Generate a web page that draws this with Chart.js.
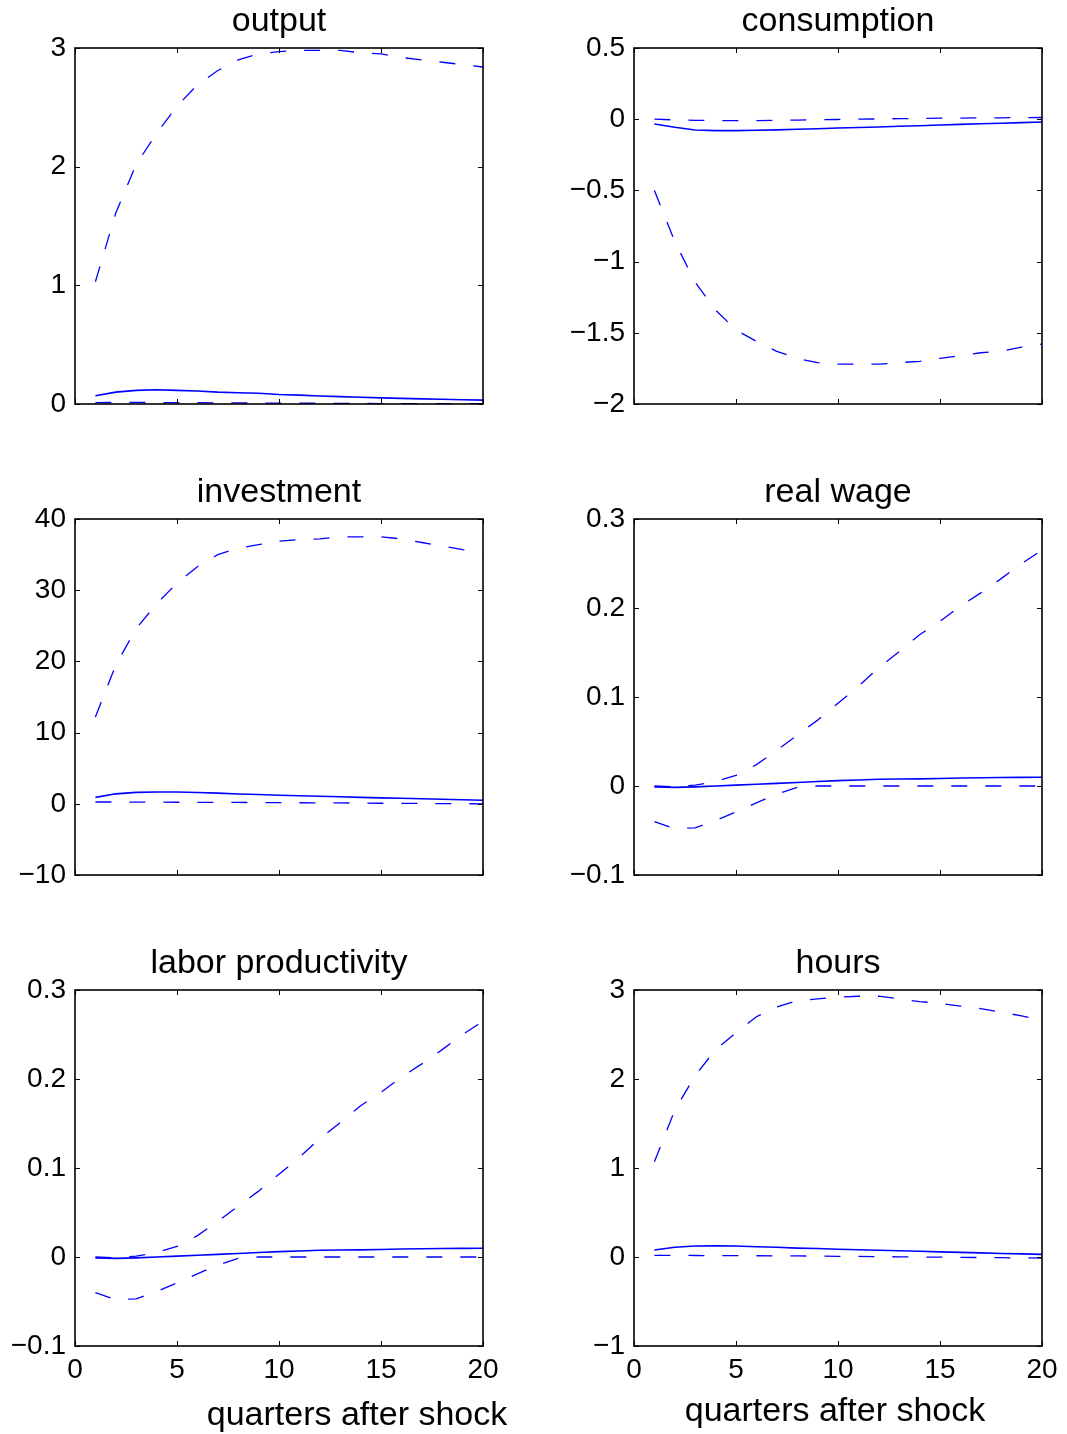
<!DOCTYPE html>
<html>
<head>
<meta charset="utf-8">
<script src="https://cdn.jsdelivr.net/npm/chart.js@4"></script>
<style>
  html, body { margin: 0; padding: 0; background: #fff; }
  body { position: relative; width: 1067px; height: 1434px; overflow: hidden; }
  canvas { position: absolute; }
</style>
</head>
<body>
<canvas id="c0"></canvas>
<canvas id="c1"></canvas>
<canvas id="c2"></canvas>
<canvas id="c3"></canvas>
<canvas id="c4"></canvas>
<canvas id="c5"></canvas>
<script>
// ---------------- data ----------------
const quarters = [1,2,3,4,5,6,7,8,9,10,11,12,13,14,15,16,17,18,19,20];
const xTicks = [0,5,10,15,20];
const xLabel = "quarters after shock";

const titles = ["output", "consumption", "investment", "real wage", "labor productivity", "hours"];

const outputTicks = [0,1,2,3];
const outputUpper  = [1.03,1.61,2.02,2.28,2.51,2.69,2.81,2.90,2.95,2.97,2.98,2.98,2.98,2.96,2.95,2.92,2.90,2.88,2.86,2.84];
const outputMedian = [0.07,0.10,0.115,0.12,0.115,0.11,0.10,0.095,0.09,0.08,0.075,0.068,0.062,0.057,0.052,0.047,0.043,0.040,0.036,0.033];
const outputLower  = [0.012,0.013,0.013,0.012,0.012,0.011,0.010,0.009,0.008,0.007,0.007,0.006,0.005,0.005,0.004,0.004,0.003,0.003,0.002,0.002];

const consumptionTicks = [-2,-1.5,-1,-0.5,0,0.5];
const consumptionUpper  = [0.0,-0.005,-0.008,-0.01,-0.01,-0.01,-0.008,-0.006,-0.004,-0.002,0.0,0.002,0.004,0.005,0.007,0.008,0.009,0.010,0.011,0.012];
const consumptionMedian = [-0.034,-0.057,-0.076,-0.080,-0.080,-0.078,-0.075,-0.071,-0.067,-0.062,-0.058,-0.055,-0.050,-0.046,-0.041,-0.036,-0.032,-0.028,-0.024,-0.020];
const consumptionLower  = [-0.50,-0.86,-1.145,-1.34,-1.48,-1.56,-1.63,-1.68,-1.71,-1.72,-1.72,-1.72,-1.71,-1.70,-1.68,-1.66,-1.64,-1.63,-1.60,-1.58];

const investmentTicks = [-10,0,10,20,30,40];
const investmentUpper  = [12.2,19.5,24.6,28.1,31.0,33.3,35.0,35.9,36.4,36.9,37.1,37.2,37.5,37.5,37.5,37.2,36.7,36.2,35.7,35.3];
const investmentMedian = [0.9,1.4,1.6,1.65,1.65,1.58,1.5,1.37,1.3,1.2,1.13,1.07,0.98,0.9,0.83,0.77,0.7,0.63,0.56,0.5];
const investmentLower  = [0.25,0.25,0.24,0.23,0.22,0.21,0.2,0.19,0.18,0.17,0.15,0.14,0.12,0.1,0.08,0.06,0.05,0.03,0.01,0.0];

const wageTicks = [-0.1,0,0.1,0.2,0.3];
const wageUpper  = [0.0,-0.001,0.001,0.005,0.012,0.024,0.040,0.057,0.074,0.093,0.112,0.133,0.151,0.170,0.185,0.202,0.217,0.233,0.250,0.265];
const wageMedian = [-0.001,-0.0015,-0.001,0.0,0.001,0.002,0.003,0.004,0.005,0.006,0.0068,0.0075,0.0078,0.008,0.0085,0.009,0.0093,0.0095,0.0097,0.0098];
const wageLower  = [-0.040,-0.048,-0.047,-0.039,-0.029,-0.019,-0.009,-0.0015,0.0,0.0,0.0,0.0,0.0,0.0,0.0,0.0,0.0,0.0,0.0,0.0];

const productivityTicks = [-0.1,0,0.1,0.2,0.3];
const productivityUpper  = [0.0,-0.001,0.001,0.005,0.012,0.024,0.040,0.057,0.074,0.093,0.112,0.133,0.151,0.170,0.185,0.202,0.217,0.233,0.250,0.265];
const productivityMedian = [-0.001,-0.0015,-0.001,0.0,0.001,0.002,0.003,0.004,0.005,0.006,0.0068,0.0075,0.0078,0.008,0.0085,0.009,0.0093,0.0095,0.0097,0.0098];
const productivityLower  = [-0.040,-0.048,-0.047,-0.039,-0.029,-0.019,-0.009,-0.0015,0.0,0.0,0.0,0.0,0.0,0.0,0.0,0.0,0.0,0.0,0.0,0.0];

const hoursTicks = [-1,0,1,2,3];
const hoursUpper  = [1.07,1.65,2.04,2.33,2.52,2.70,2.81,2.88,2.90,2.92,2.93,2.93,2.90,2.87,2.85,2.82,2.79,2.75,2.71,2.66];
const hoursMedian = [0.079,0.11,0.124,0.127,0.124,0.116,0.11,0.10,0.095,0.087,0.081,0.075,0.07,0.064,0.058,0.052,0.046,0.04,0.035,0.03];
const hoursLower  = [0.019,0.018,0.017,0.016,0.015,0.014,0.013,0.012,0.01,0.008,0.006,0.004,0.002,0.0,-0.002,-0.004,-0.006,-0.008,-0.01,-0.012];

// ---------------- layout ----------------
const FONT = '"Liberation Sans", Arial, Helvetica, sans-serif';
const BLUE = '#0000ff';
const cols = [ {L: 0, W: 540, px0: 75, px1: 483}, {L: 540, W: 527, px0: 634, px1: 1042} ];
const rows = [ {T: 0, H: 460, py0: 48, py1: 404}, {T: 460, H: 470, py0: 519, py1: 875}, {T: 930, H: 504, py0: 990, py1: 1346} ];

const panels = [
  { title: titles[0], ticks: outputTicks, up: outputUpper, med: outputMedian, lo: outputLower },
  { title: titles[1], ticks: consumptionTicks, up: consumptionUpper, med: consumptionMedian, lo: consumptionLower },
  { title: titles[2], ticks: investmentTicks, up: investmentUpper, med: investmentMedian, lo: investmentLower },
  { title: titles[3], ticks: wageTicks, up: wageUpper, med: wageMedian, lo: wageLower },
  { title: titles[4], ticks: productivityTicks, up: productivityUpper, med: productivityMedian, lo: productivityLower },
  { title: titles[5], ticks: hoursTicks, up: hoursUpper, med: hoursMedian, lo: hoursLower }
];
const xLabelPos = [ {cx: 357, base: 1425}, {cx: 835, base: 1421} ];

function fmt(v) {
  const s = String(Number(v.toFixed(3)));
  return s.replace('-', '\u2212');
}

const boxPlugin = {
  id: 'matlabBox',
  afterDraw(chart, args, opts) {
    const { ctx, chartArea: a, scales } = chart;
    ctx.save();
    // inward ticks on all four sides
    ctx.strokeStyle = '#000';
    ctx.lineWidth = 1;
    const tl = 5;
    ctx.beginPath();
    scales.x.ticks.forEach(t => {
      const p = Math.round(scales.x.getPixelForValue(t.value)) + 0.5;
      ctx.moveTo(p, a.bottom); ctx.lineTo(p, a.bottom - tl);
      ctx.moveTo(p, a.top); ctx.lineTo(p, a.top + tl);
    });
    scales.y.ticks.forEach(t => {
      const p = Math.round(scales.y.getPixelForValue(t.value)) + 0.5;
      ctx.moveTo(a.left, p); ctx.lineTo(a.left + tl, p);
      ctx.moveTo(a.right, p); ctx.lineTo(a.right - tl, p);
    });
    ctx.stroke();
    // frame
    ctx.lineWidth = 1.6;
    ctx.strokeRect(a.left, a.top, a.right - a.left, a.bottom - a.top);
    // title
    ctx.fillStyle = '#000';
    ctx.font = '34px ' + FONT;
    ctx.textAlign = 'center';
    ctx.textBaseline = 'alphabetic';
    ctx.fillText(opts.title, (a.left + a.right) / 2, a.top - 17);
    // x label
    if (opts.xlabel) {
      ctx.fillText(opts.xlabel.text, opts.xlabel.x, opts.xlabel.y);
    }
    ctx.restore();
  }
};

panels.forEach((p, i) => {
  const col = cols[i % 2], row = rows[Math.floor(i / 2)];
  const bottomRow = Math.floor(i / 2) === 2;
  const cv = document.getElementById('c' + i);
  cv.width = col.W; cv.height = row.H;
  cv.style.left = col.L + 'px'; cv.style.top = row.T + 'px';
  cv.style.width = col.W + 'px'; cv.style.height = row.H + 'px';
  const yW = col.px0 - col.L;
  const xH = row.T + row.H - row.py1;
  const lineDs = (data, dashed) => ({
    data: quarters.map((q, k) => ({ x: q, y: data[k] })),
    borderColor: BLUE,
    borderWidth: dashed ? 1.3 : 1.6,
    borderDash: dashed ? [16, 18] : [],
    pointRadius: 0,
    fill: false,
    tension: 0
  });
  new Chart(cv, {
    type: 'line',
    data: { datasets: [ lineDs(p.med, false), lineDs(p.up, true), lineDs(p.lo, true) ] },
    options: {
      responsive: false,
      animation: false,
      devicePixelRatio: 1,
      layout: { padding: { left: 0, top: row.py0 - row.T, right: col.L + col.W - col.px1, bottom: 0 } },
      plugins: {
        legend: { display: false },
        tooltip: { enabled: false },
        title: { display: false },
        matlabBox: {
          title: p.title,
          xlabel: bottomRow ? { text: xLabel, x: xLabelPos[i % 2].cx - col.L, y: xLabelPos[i % 2].base - row.T } : null
        }
      },
      scales: {
        x: {
          type: 'linear',
          min: xTicks[0], max: xTicks[xTicks.length - 1],
          grid: { display: false, drawTicks: false },
          border: { display: false },
          afterBuildTicks: s => { s.ticks = xTicks.map(v => ({ value: v })); },
          afterFit: s => { s.height = xH; },
          ticks: {
            autoSkip: false, maxRotation: 0, padding: 7,
            color: '#000', font: { family: FONT, size: 28 },
            callback: v => bottomRow ? fmt(v) : ''
          }
        },
        y: {
          type: 'linear',
          min: p.ticks[0], max: p.ticks[p.ticks.length - 1],
          grid: { display: false, drawTicks: false },
          border: { display: false },
          afterBuildTicks: s => { s.ticks = p.ticks.map(v => ({ value: v })); },
          afterFit: s => { s.width = yW; },
          ticks: {
            autoSkip: false, padding: 9,
            color: '#000', font: { family: FONT, size: 28 },
            callback: v => fmt(v)
          }
        }
      }
    },
    plugins: [boxPlugin]
  });
});
</script>
</body>
</html>
